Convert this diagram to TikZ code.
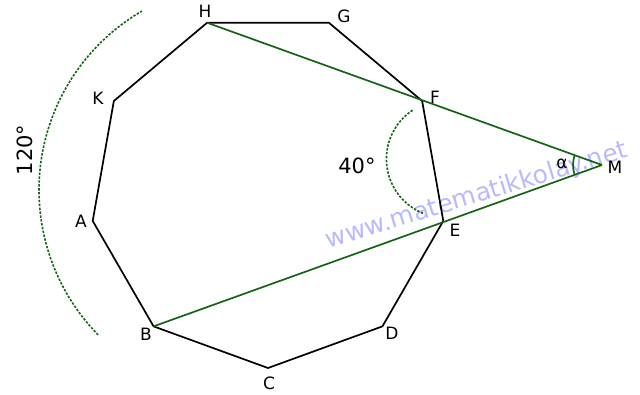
\documentclass[tikz,border=0pt]{standalone}
\usepackage{fontspec}
\setmainfont{DejaVu Sans}
\usetikzlibrary{calc}
\definecolor{dgreen}{RGB}{20,100,20}
\definecolor{wmark}{RGB}{185,185,255}
\begin{document}
\begin{tikzpicture}[x=1pt,y=-1pt,
  poly/.style={line width=1.7pt,line join=miter,black},
  gline/.style={line width=1.7pt,dgreen},
  darc/.style={line width=1.6pt,dgreen,dash pattern=on 2.4pt off 1.5pt},
  vlab/.style={font=\fontsize{17}{18}\selectfont,inner sep=0pt},
  alab/.style={font=\fontsize{21}{22}\selectfont,inner sep=0pt}]
\useasboundingbox (0,0) rectangle (640,394);
\coordinate (O) at (268,190);
\coordinate (H) at ($(O)+(-110:178)$);
\coordinate (G) at ($(O)+(-70:178)$);
\coordinate (F) at ($(O)+(-30:178)$);
\coordinate (E) at ($(O)+(10:178)$);
\coordinate (D) at ($(O)+(50:178)$);
\coordinate (C) at ($(O)+(90:178)$);
\coordinate (B) at ($(O)+(130:178)$);
\coordinate (A) at ($(O)+(170:178)$);
\coordinate (K) at ($(O)+(210:178)$);
\coordinate (M) at (602,165);
% watermark
\node[font=\fontsize{25}{26}\selectfont,text=wmark,rotate=17,inner sep=0pt] (wm) at (477,196) {www.matematikkolay.net};
% polygon
\draw[poly] (A) -- (B) -- (C) -- (D) -- (E) -- (F) -- (G) -- (H) -- (K) -- cycle;
% green lines
\draw[gline] (H) -- (M);
\draw[gline] (B) -- (M);
% arcs
\draw[darc] (445,159) ++(112:58.6) arc[start angle=112,end angle=237,radius=58.6];
\draw[darc] (246,190) ++(135.6:207) arc[start angle=135.6,end angle=239.8,radius=207];
\draw[gline] (M) ++(160.6:29) arc[start angle=160.6,end angle=200.1,radius=29];
% labels
\node[vlab] (lH) at (205,11) {H};
\node[vlab] (lG) at (344,16) {G};
\node[vlab] (lF) at (435,97) {F};
\node[vlab] (lE) at (455,230) {E};
\node[vlab] (lD) at (392,333) {D};
\node[vlab] (lC) at (269,383) {C};
\node[vlab] (lB) at (146,334) {B};
\node[vlab] (lA) at (81,221) {A};
\node[vlab] (lK) at (98,98) {K};
\node[vlab] (lM) at (615,167) {M};
\node[vlab] (lal) at (562,164) {α};
\node[alab] (l40) at (357,166) {40°};
\node[alab,rotate=90] (l120) at (25,150) {120°};
\end{tikzpicture}
\end{document}
